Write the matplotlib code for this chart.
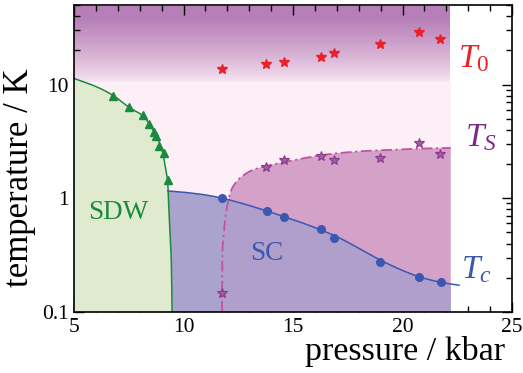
import numpy as np
import matplotlib
matplotlib.use("Agg")
import matplotlib.pyplot as plt
from matplotlib.patches import Polygon
from matplotlib.ticker import MultipleLocator, FixedLocator, FixedFormatter, LogLocator, NullFormatter
from matplotlib.colors import LinearSegmentedColormap

plt.rcParams['font.family'] = ['Liberation Serif', 'DejaVu Serif']
plt.rcParams['mathtext.fontset'] = 'custom'
plt.rcParams['mathtext.rm'] = 'Liberation Serif'
plt.rcParams['mathtext.it'] = 'Liberation Serif:italic'

# ---------------- data ----------------
# T0 (red stars)
t0_p = [11.77, 13.76, 14.58, 16.26, 16.86, 18.95, 20.74, 21.73]
t0_T = [13.8, 15.2, 15.9, 17.3, 19.0, 22.9, 28.7, 24.9]
# TS (purple stars)
ts_p = [11.77, 13.76, 14.58, 16.26, 16.86, 18.95, 20.74, 21.73]
ts_T = [0.146, 1.88, 2.17, 2.33, 2.18, 2.26, 3.06, 2.45]
# Tc (blue circles)
tc_p = [11.77, 13.79, 14.58, 16.26, 16.88, 18.97, 20.76, 21.74]
tc_T = [1.0, 0.776, 0.691, 0.535, 0.446, 0.277, 0.202, 0.184]
# SDW (green triangles)
sdw_p = [6.79, 7.51, 8.15, 8.42, 8.64, 8.76, 8.88, 9.09, 9.27]
sdw_T = [8.0, 6.31, 5.37, 4.51, 3.83, 3.56, 2.88, 2.52, 1.44]

# guide-line control points
sdw_line_p = [5.0, 6.0, 6.79, 7.51, 8.15, 8.5, 8.76, 9.0, 9.15, 9.27, 9.31, 9.38, 9.44, 9.48]
sdw_line_T = [11.3, 9.6, 8.0, 6.31, 5.3, 4.3, 3.5, 2.75, 2.0, 1.44, 1.0, 0.5, 0.29, 0.1]
tc_line_p = [9.29, 10.0, 11.0, 11.77, 12.6, 13.79, 14.58, 15.5, 16.4, 17.2, 18.1, 19.0, 20.0, 20.8, 21.7, 22.58]
tc_line_T = [1.16, 1.13, 1.07, 1.0, 0.91, 0.775, 0.69, 0.60, 0.515, 0.44, 0.355, 0.285, 0.232, 0.203, 0.183, 0.172]
ts_line_p = [11.76, 11.77, 11.82, 11.92, 12.09, 12.32, 12.77, 13.45, 14.97, 16.49, 18.0, 19.51, 20.73, 22.2]
ts_line_T = [0.1, 0.3, 0.45, 0.7, 1.04, 1.32, 1.61, 1.85, 2.15, 2.42, 2.58, 2.67, 2.73, 2.77]

p_edge = 22.2      # right edge of coloured regions
grad_low, grad_high, t_top = 10.6, 38.0, 50.0

# colours
c_green_fill = '#dfeacf'
c_green = '#1a8a3e'
c_blue_fill = '#a9a3ce'
c_blue_fill2 = '#b09ecb'
c_blue = '#3a58b2'
c_pink = '#d4a1c8'
c_light = '#fcf0f6'
c_red = '#ec2028'
c_purple = '#7c2a82'
c_ts_star = '#8a3a8c'
c_ts_line = '#c352a6'


def smooth(px, py, n=20):
    """Catmull-Rom through control points (log T space)."""
    x = np.asarray(px, float)
    y = np.log10(np.asarray(py, float))
    P = np.column_stack([x, y])
    P = np.vstack([2 * P[0] - P[1], P, 2 * P[-1] - P[-2]])
    out = []
    t = np.linspace(0, 1, n, endpoint=False)
    for i in range(1, len(P) - 2):
        p0, p1, p2, p3 = P[i - 1], P[i], P[i + 1], P[i + 2]
        seg = 0.5 * ((2 * p1)[None, :] + (-p0 + p2)[None, :] * t[:, None]
                     + (2 * p0 - 5 * p1 + 4 * p2 - p3)[None, :] * t[:, None] ** 2
                     + (-p0 + 3 * p1 - 3 * p2 + p3)[None, :] * t[:, None] ** 3)
        out.append(seg)
    out.append(P[-2][None, :])
    out = np.vstack(out)
    return out[:, 0], 10 ** out[:, 1]


sx, sy = smooth(sdw_line_p, sdw_line_T)
cx, cy = smooth(tc_line_p, tc_line_T)
tx, ty = smooth(ts_line_p, ts_line_T)

fig = plt.figure(figsize=(5.23, 3.73), dpi=100)
ax = fig.add_axes([74 / 523, 1 - 312 / 373, 438 / 523, 307 / 373])
ax.set_yscale('log')
ax.set_xlim(5, 25)
ax.set_ylim(0.1, t_top)

# light pink background
ax.add_patch(Polygon([[5, 0.1], [p_edge, 0.1], [p_edge, grad_low], [5, grad_low]],
                     closed=True, facecolor=c_light, edgecolor='none', zorder=0))
# gradient at top (image)
cmap = LinearSegmentedColormap.from_list('g', ['#f8e7f1', '#b77fb8'], N=1024)
yrows = np.linspace(grad_low, t_top, 800)
val = np.clip((np.log10(yrows) - np.log10(grad_low)) / (np.log10(grad_high) - np.log10(grad_low)), 0, 1)
val = val ** 0.8
ax.imshow(np.tile(val[:, None], (1, 2)), extent=[5, p_edge, grad_low, t_top], origin='lower',
          aspect='auto', cmap=cmap, vmin=0, vmax=1, interpolation='bilinear', zorder=0.5)
ax.set_xlim(5, 25)
ax.set_ylim(0.1, t_top)

# pink TS region
mask = tx <= p_edge
pink_verts = np.vstack([np.column_stack([tx[mask], ty[mask]]),
                        [[p_edge, ty[mask][-1]], [p_edge, 0.1], [tx[0], 0.1]]])
pink = Polygon(pink_verts, closed=True, facecolor=c_pink, edgecolor='none', zorder=1)
ax.add_patch(pink)

# SC region
cm = cx <= p_edge
tc_at_edge = np.interp(p_edge, cx, cy)
sdw_low = sy <= cy[0]
sc_verts = np.vstack([np.column_stack([cx[cm], cy[cm]]),
                      [[p_edge, tc_at_edge], [p_edge, 0.1]],
                      np.column_stack([sx[sdw_low], sy[sdw_low]])[::-1]])
ax.add_patch(Polygon(sc_verts, closed=True, facecolor=c_blue_fill, edgecolor='none', zorder=2))
sc2 = Polygon(sc_verts, closed=True, facecolor=c_blue_fill2, edgecolor='none', zorder=2.1)
ax.add_patch(sc2)
sc2.set_clip_path(pink)

# SDW region
sdw_verts = np.vstack([[[5, 0.1]], np.column_stack([sx, sy])])
ax.add_patch(Polygon(sdw_verts, closed=True, facecolor=c_green_fill, edgecolor='none', zorder=2.5))

# lines
ax.plot(sx, sy, color=c_green, lw=1.1, zorder=3)
ax.plot(cx, cy, color=c_blue, lw=1.1, zorder=3)
ax.plot(tx[mask], ty[mask], color=c_ts_line, lw=1.3, ls=(0, (6, 2, 1.2, 2)), zorder=3)

# markers
ax.plot(sdw_p, sdw_T, ls='none', marker='^', ms=6, color=c_green, zorder=4)
ax.plot(tc_p, tc_T, ls='none', marker='o', ms=5.5, color=c_blue, zorder=4)
ax.plot(t0_p, t0_T, ls='none', marker='*', ms=7, color=c_red, zorder=4)
ax.plot(ts_p, ts_T, ls='none', marker='*', ms=7.5, color=c_ts_star, mfc='#a45aa6', mew=0.8, zorder=4)

# labels inside
fig.text(118 / 523, 1 - 212 / 373, 'SDW', color=c_green, fontsize=19.5, ha='center', va='center')
fig.text(267 / 523, 1 - 254 / 373, 'SC', color=c_blue, fontsize=19.5, ha='center', va='center')
fig.text(458 / 523, 1 - 67 / 373, r'$T_0$', color=c_red, fontsize=24, ha='left', va='baseline')
fig.text(465 / 523, 1 - 146 / 373, r'$T_S$', color=c_purple, fontsize=24, ha='left', va='baseline')
fig.text(461 / 523, 1 - 278 / 373, r'$T_c$', color=c_blue, fontsize=24, ha='left', va='baseline')

# axes labels
fig.text(505 / 523, 1 - 360 / 373, 'pressure / kbar', fontsize=24.5, ha='right', va='baseline')
fig.text(20 / 523, 1 - 178 / 373, 'temperature / K', fontsize=25, ha='center', va='center', rotation=90)

# ticks
ax.xaxis.set_major_locator(FixedLocator([5, 10, 15, 20, 25]))
ax.xaxis.set_minor_locator(MultipleLocator(1))
ax.yaxis.set_major_locator(FixedLocator([0.1, 1, 10]))
ax.yaxis.set_major_formatter(FixedFormatter(['0.1', '1', '10']))
ax.yaxis.set_minor_locator(LogLocator(base=10, subs=np.arange(2, 10)))
ax.yaxis.set_minor_formatter(NullFormatter())
ax.tick_params(which='both', direction='in', top=True, right=True, labelsize=15.5, width=1.0)
ax.tick_params(which='major', length=7, pad=4)
ax.tick_params(which='minor', length=4)
for s in ax.spines.values():
    s.set_linewidth(1.2)
    s.set_zorder(10)

fig.savefig('out.png', dpi=100)
